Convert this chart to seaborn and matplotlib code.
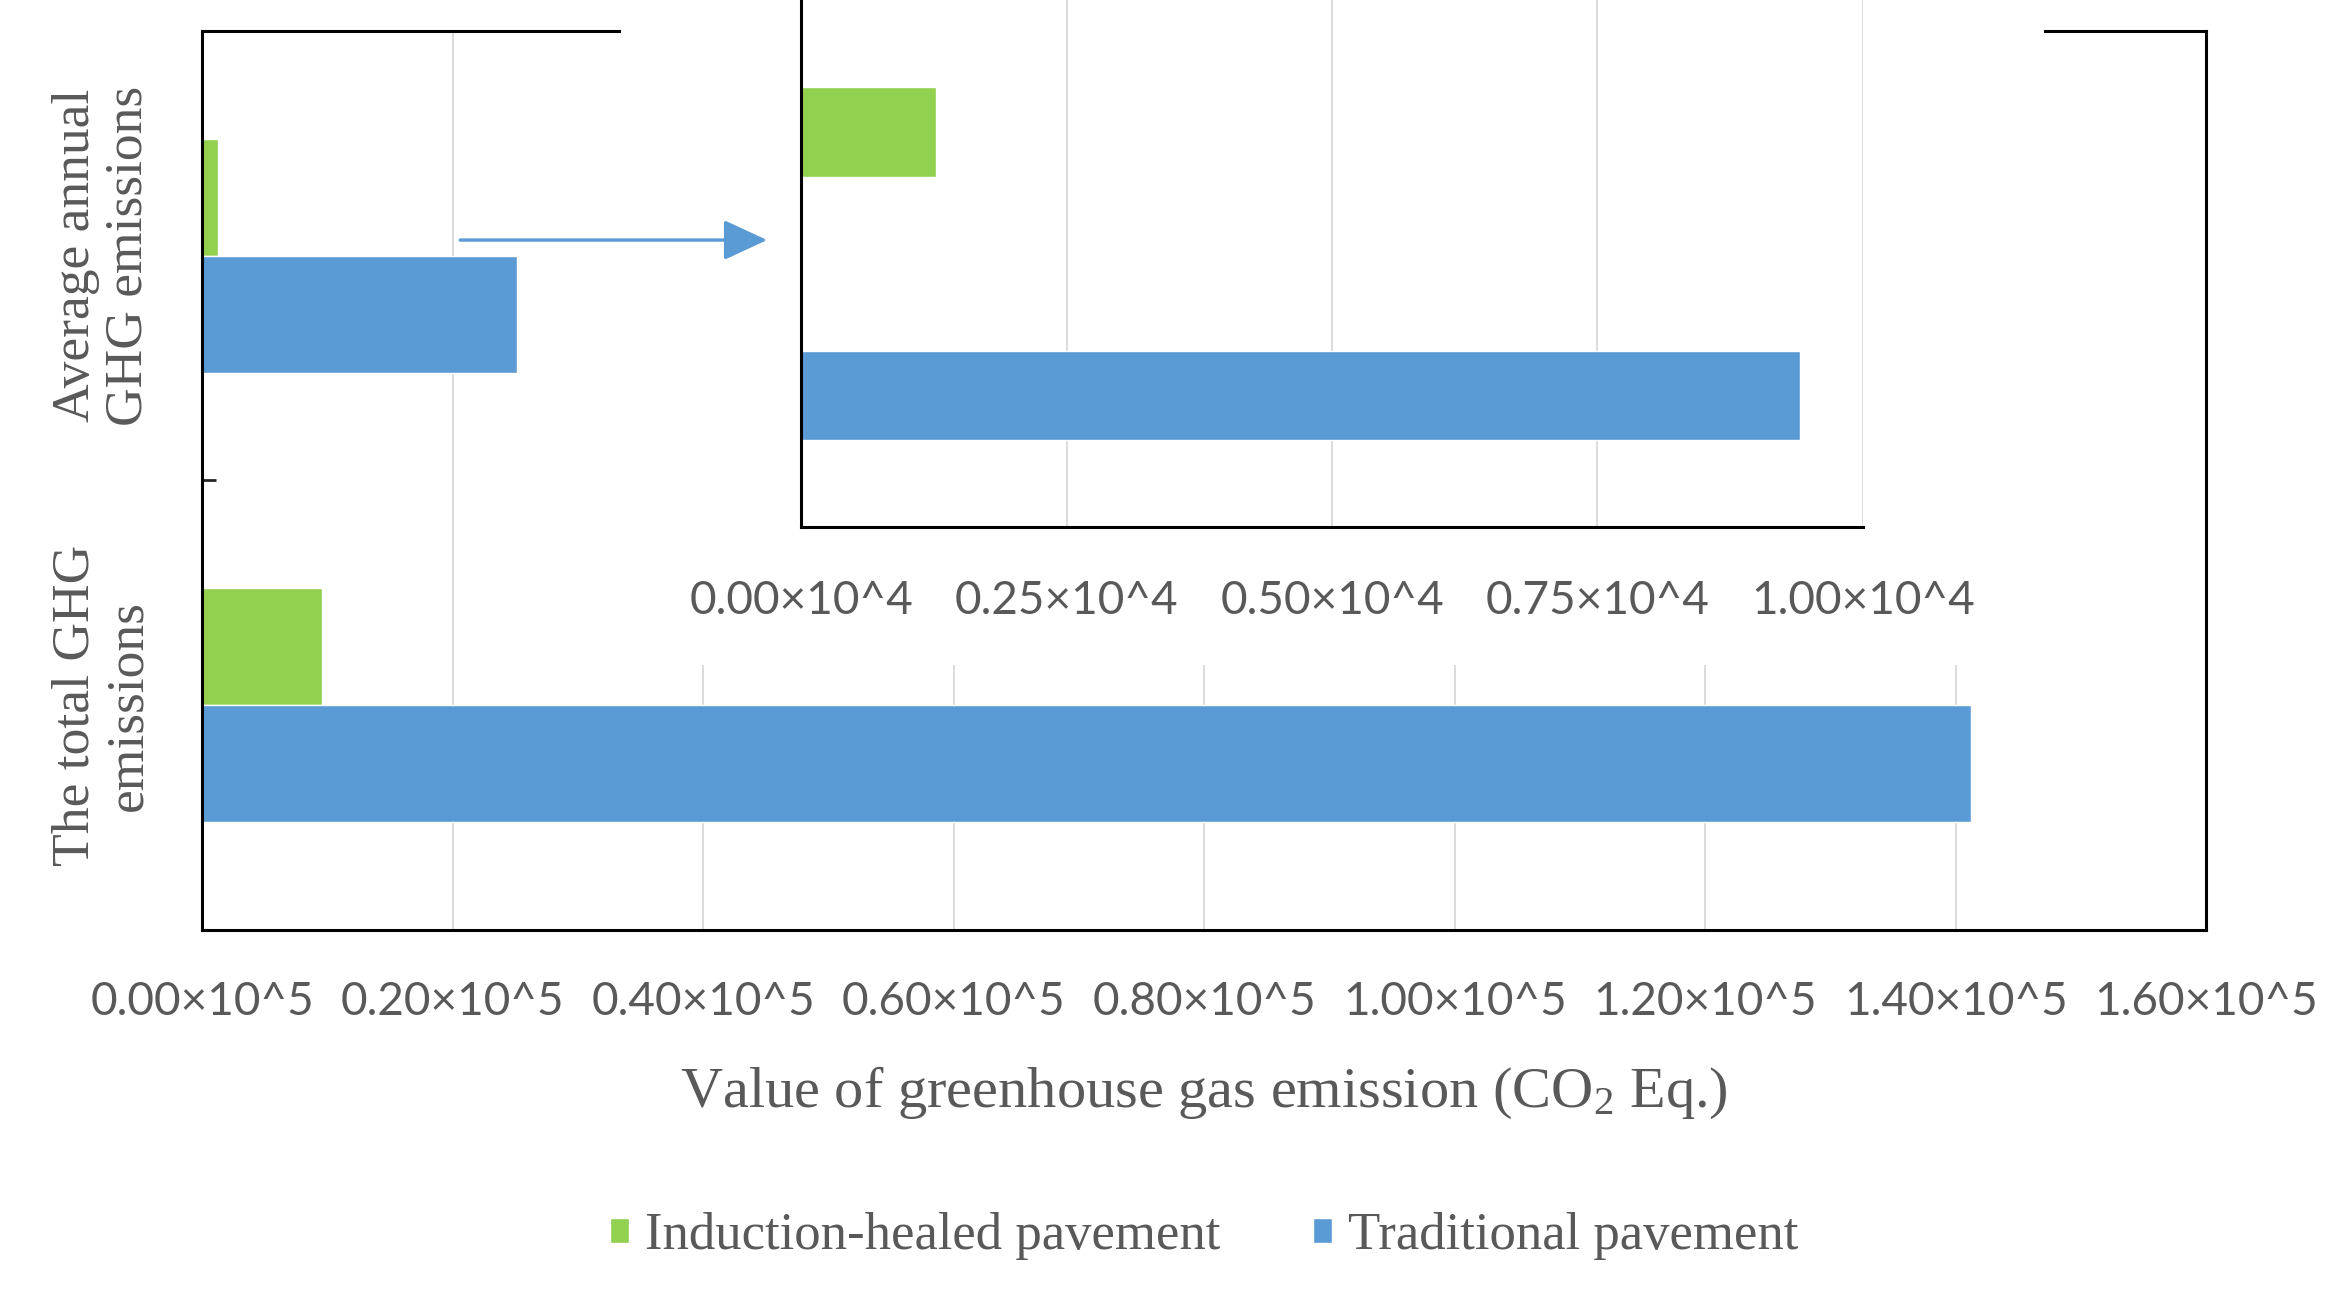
import pandas as pd
import matplotlib.pyplot as plt
import numpy as np
import seaborn as sns
from matplotlib.patches import Rectangle, FancyArrowPatch
from matplotlib.ticker import FuncFormatter, FixedLocator

# Values
categories = ["Average annual\nGHG emissions", "The total GHG\nemissions"]
pavements = ["Induction-healed pavement", "Traditional pavement"]
induction_vals = [1300, 9600]
traditional_vals = [25100, 141200]
inset_vals = [1270, 9410]

green = "#92D050"
blue = "#5B9BD5"
gray_txt = "#595959"
grid_col = "#D9D9D9"

main_df = pd.DataFrame({
    "category": categories * 2,
    "pavement": [pavements[0]] * 2 + [pavements[1]] * 2,
    "value": induction_vals + traditional_vals,
})
inset_df = pd.DataFrame({"pavement": pavements, "value": inset_vals})

sns.set_style("white")
plt.rcParams["font.family"] = ["DejaVu Sans"]
plt.rcParams["mathtext.fontset"] = "custom"
plt.rcParams["mathtext.rm"] = "Liberation Serif"
plt.rcParams["mathtext.it"] = "Liberation Serif:italic"

serif = "Liberation Serif"
sans = "Lato"

fig = plt.figure(figsize=(23.48, 12.92), dpi=100)

# main chart
ax = fig.add_axes([0.0861, 0.2802, 0.8535, 0.6958])
sns.barplot(data=main_df, y="category", x="value", hue="pavement", hue_order=pavements,
            palette=[green, blue], orient="h", width=0.52, saturation=1, ax=ax)
ax.set_xlim(0, 160000)
ax.set_ylim(1.5, -0.5)
ax.xaxis.set_major_locator(FixedLocator(np.arange(0, 160001, 20000)))
ax.xaxis.set_major_formatter(FuncFormatter(lambda v, p: f"{v / 1e5:.2f}×10^5"))
ax.grid(axis="x", color=grid_col, lw=1.3)
ax.set_axisbelow(True)
for s in ax.spines.values():
    s.set_color("black")
    s.set_linewidth(2.2)
ax.tick_params(axis="x", direction="in", length=13, width=2, pad=37,
               labelsize=33, labelcolor=gray_txt)
for t in ax.get_xticklabels():
    t.set_fontfamily(sans)
ax.set_yticks([0, 1])
ax.set_yticklabels(categories, rotation=90, va="center", ha="right",
                   multialignment="center", fontfamily=serif, fontsize=38.5, color=gray_txt,
                   linespacing=1.12)
ax.tick_params(axis="y", which="major", length=0, pad=36)
ax.yaxis.set_minor_locator(FixedLocator([0.5]))
ax.tick_params(axis="y", which="minor", direction="in", length=10, width=2, left=True)
ax.set_ylabel("")
ax.set_xlabel("Value of greenhouse gas emission (CO$_2$ Eq.)", fontfamily=serif,
              fontsize=42, color=gray_txt, labelpad=30)

handles, labels = ax.get_legend_handles_labels()
ax.legend_.remove()
fig.legend(handles, labels, loc="center", bbox_to_anchor=(0.5128, 0.043), ncol=2,
           frameon=False, prop={"family": serif, "size": 38}, labelcolor=gray_txt,
           handlelength=0.36, handleheight=0.36, handletextpad=0.3, columnspacing=1.75)

# white backing of the zoomed chart
rect = Rectangle((0.2646, 0.4853), 0.6059, 0.52, transform=fig.transFigure,
                 facecolor="white", edgecolor="none", zorder=1)
fig.add_artist(rect)

# inset chart
ins = fig.add_axes([0.3412, 0.592, 0.4522, 0.408])
ins.set_zorder(2)
sns.barplot(data=inset_df, y="pavement", x="value", hue="pavement", hue_order=pavements,
            palette=[green, blue], orient="h", width=0.34, saturation=1, legend=False, ax=ins)
ins.set_xlim(0, 10000)
ins.set_ylim(1.5, -0.5)
ins.xaxis.set_major_locator(FixedLocator(np.arange(0, 10001, 2500)))
ins.xaxis.set_major_formatter(FuncFormatter(lambda v, p: f"{v / 1e4:.2f}×10^4"))
ins.grid(axis="x", color=grid_col, lw=1.3)
ins.set_axisbelow(True)
ins.spines["top"].set_visible(False)
ins.spines["right"].set_visible(False)
for s in ["left", "bottom"]:
    ins.spines[s].set_color("black")
    ins.spines[s].set_linewidth(2.2)
ins.tick_params(axis="x", direction="in", length=13, width=2, pad=38,
                labelsize=33, labelcolor=gray_txt)
for t in ins.get_xticklabels():
    t.set_fontfamily(sans)
ins.set_yticks([])
ins.set_xlabel("")
ins.set_ylabel("")

# arrow pointing into the zoom
arrow = FancyArrowPatch((0.1960, 0.8142), (0.3267, 0.8142), transform=fig.transFigure,
                        arrowstyle="-|>,head_length=27,head_width=12.5", mutation_scale=1,
                        shrinkA=0, shrinkB=0, color=blue, lw=2.4, zorder=3)
fig.add_artist(arrow)

fig.savefig("out.png", dpi=100, facecolor="white")
